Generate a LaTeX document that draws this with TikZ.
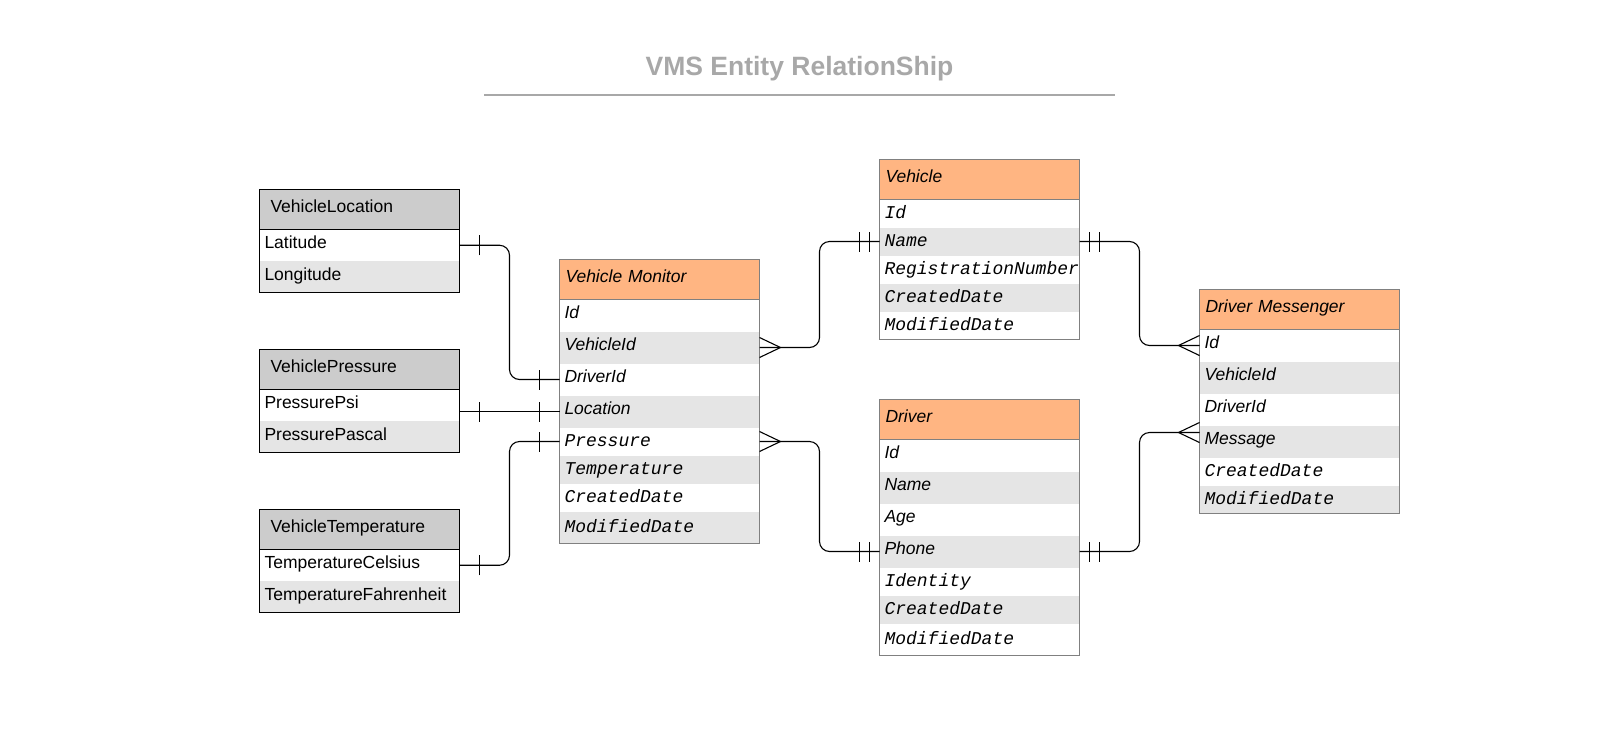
\documentclass[tikz,border=0pt]{standalone}
\usepackage{fontspec}
\setmainfont{Liberation Sans}
\setmonofont{Liberation Mono}
\usepackage{tikz}
\usetikzlibrary{positioning, calc, decorations.markings}
\definecolor{headorange}{HTML}{FFB582}
\definecolor{headgray}{HTML}{CCCCCC}
\definecolor{stripe}{HTML}{E5E5E5}
\definecolor{edgegray}{HTML}{808080}
\definecolor{titlegray}{HTML}{A8A8A8}
\tikzstyle{cell} = [rectangle, outer sep=0pt, inner ysep=0pt, text height=11.5pt, text depth=5pt, align=left, minimum width=200pt]
\tikzstyle{tablehead} = [cell, minimum height=40pt, text width=188pt, inner xsep=6pt, fill=headorange, font=\fontsize{17.5}{20}\selectfont\itshape]
\tikzstyle{lefthead} = [tablehead, fill=headgray, text width=178pt, inner xsep=11pt, font=\fontsize{17.5}{20}\selectfont]
\tikzstyle{field} = [cell, minimum height=32pt, text width=190pt, inner xsep=5pt, font=\fontsize{17.5}{20}\selectfont\itshape]
\tikzstyle{monofield} = [field, minimum height=28pt, text height=12.5pt, text depth=3.5pt, font=\fontsize{18}{20}\selectfont\ttfamily\itshape]
\tikzstyle{leftfield} = [field, minimum height=31.5pt, font=\fontsize{17.5}{20}\selectfont]
\tikzstyle{striped} = [fill=stripe]
\tikzstyle{entityframe} = [draw=edgegray, line width=1pt]
\tikzstyle{leftframe} = [draw=black, line width=1pt]
\tikzstyle{relation} = [draw=black, line width=1.1pt, rounded corners=10pt]
\tikzstyle{tick} = [line width=1.1pt, sharp corners]
\tikzstyle{onestart} = [postaction={decorate, decoration={markings, mark=at position 20pt with {\draw[tick] (0pt,-10pt) -- (0pt,10pt);}}}]
\tikzstyle{oneend} = [postaction={decorate, decoration={markings, mark=at position -20pt with {\draw[tick] (0pt,-10pt) -- (0pt,10pt);}}}]
\tikzstyle{twostart} = [postaction={decorate, decoration={markings,
	mark=at position 10pt with {\draw[tick] (0pt,-10pt) -- (0pt,10pt);},
	mark=at position 20pt with {\draw[tick] (0pt,-10pt) -- (0pt,10pt);}}}]
\tikzstyle{twoend} = [postaction={decorate, decoration={markings,
	mark=at position -20pt with {\draw[tick] (0pt,-10pt) -- (0pt,10pt);},
	mark=at position -10pt with {\draw[tick] (0pt,-10pt) -- (0pt,10pt);}}}]
\tikzstyle{manystart} = [postaction={decorate, decoration={markings, mark=at position 21pt with {\draw[tick] (-21pt,10pt) -- (0pt,0pt) -- (-21pt,-10pt);}}}]
\tikzstyle{manyend} = [postaction={decorate, decoration={markings, mark=at position -21pt with {\draw[tick] (21pt,10pt) -- (0pt,0pt) -- (21pt,-10pt);}}}]

\begin{document}
\begin{tikzpicture}[x=1pt, y=-1pt]
		\useasboundingbox (0,0) rectangle (1621,729);
		% title
		\node (title) [anchor=base, text=titlegray, font=\fontsize{26.5}{30}\selectfont\bfseries] at (799.5,75.5) {VMS Entity RelationShip};
		\coordinate (RuleLeft) at (484,94.5);
		\coordinate (RuleRight) at (1115,94.5);
		\draw [titlegray, line width=2pt] (RuleLeft) -- (RuleRight);
		% left tables
		\node (vl) [lefthead, anchor=north west] at (259.5,189.5) {VehicleLocation};
		\node (vl-lat) [leftfield, below = 0pt of vl] {Latitude};
		\node (vl-long) [leftfield, striped, below = 0pt of vl-lat] {Longitude};
		\draw [leftframe] (vl.north west) rectangle (vl-long.south east) (vl.south west) -- (vl.south east);
		\node (vp) [lefthead, anchor=north west] at (259.5,349.5) {VehiclePressure};
		\node (vp-psi) [leftfield, below = 0pt of vp] {PressurePsi};
		\node (vp-pascal) [leftfield, striped, below = 0pt of vp-psi] {PressurePascal};
		\draw [leftframe] (vp.north west) rectangle (vp-pascal.south east) (vp.south west) -- (vp.south east);
		\node (vt) [lefthead, anchor=north west] at (259.5,509.5) {VehicleTemperature};
		\node (vt-celsius) [leftfield, below = 0pt of vt] {TemperatureCelsius};
		\node (vt-fahrenheit) [leftfield, striped, below = 0pt of vt-celsius] {TemperatureFahrenheit};
		\draw [leftframe] (vt.north west) rectangle (vt-fahrenheit.south east) (vt.south west) -- (vt.south east);
		% vehicle monitor
		\node (vm) [tablehead, anchor=north west] at (559.5,259.5) {Vehicle Monitor};
		\node (vm-id) [field, below = 0pt of vm] {Id};
		\node (vm-vehid) [field, striped, below = 0pt of vm-id] {VehicleId};
		\node (vm-driver) [field, below = 0pt of vm-vehid] {DriverId};
		\node (vm-location) [field, striped, below = 0pt of vm-driver] {Location};
		\node (vm-pressure) [monofield, below = 0pt of vm-location] {Pressure};
		\node (vm-temp) [monofield, striped, below = 0pt of vm-pressure] {Temperature};
		\node (vm-created) [monofield, below = 0pt of vm-temp] {CreatedDate};
		\node (vm-modified) [monofield, striped, minimum height=32pt, below = 0pt of vm-created] {ModifiedDate};
		\draw [entityframe] (vm.north west) rectangle (vm-modified.south east) (vm.south west) -- (vm.south east);
		% vehicle
		\node (veh) [tablehead, anchor=north west] at (879.5,159.5) {Vehicle};
		\node (veh-id) [monofield, below = 0pt of veh] {Id};
		\node (veh-name) [monofield, striped, below = 0pt of veh-id] {Name};
		\node (veh-reg) [monofield, below = 0pt of veh-name] {RegistrationNumber};
		\node (veh-created) [monofield, striped, below = 0pt of veh-reg] {CreatedDate};
		\node (veh-modified) [monofield, below = 0pt of veh-created] {ModifiedDate};
		\draw [entityframe] (veh.north west) rectangle (veh-modified.south east) (veh.south west) -- (veh.south east);
		% driver
		\node (drv) [tablehead, anchor=north west] at (879.5,399.5) {Driver};
		\node (drv-id) [field, below = 0pt of drv] {Id};
		\node (drv-name) [field, striped, below = 0pt of drv-id] {Name};
		\node (drv-age) [field, below = 0pt of drv-name] {Age};
		\node (drv-phone) [field, striped, below = 0pt of drv-age] {Phone};
		\node (drv-identity) [monofield, below = 0pt of drv-phone] {Identity};
		\node (drv-created) [monofield, striped, below = 0pt of drv-identity] {CreatedDate};
		\node (drv-modified) [monofield, minimum height=32pt, below = 0pt of drv-created] {ModifiedDate};
		\draw [entityframe] (drv.north west) rectangle (drv-modified.south east) (drv.south west) -- (drv.south east);
		% driver messenger
		\node (dm) [tablehead, anchor=north west] at (1199.5,289.5) {Driver Messenger};
		\node (dm-id) [field, below = 0pt of dm] {Id};
		\node (dm-vehid) [field, striped, below = 0pt of dm-id] {VehicleId};
		\node (dm-driver) [field, below = 0pt of dm-vehid] {DriverId};
		\node (dm-msg) [field, striped, below = 0pt of dm-driver] {Message};
		\node (dm-created) [monofield, below = 0pt of dm-msg] {CreatedDate};
		\node (dm-modified) [monofield, striped, below = 0pt of dm-created] {ModifiedDate};
		\draw [entityframe] (dm.north west) rectangle (dm-modified.south east) (dm.south west) -- (dm.south east);
		% relations
		\draw [relation, onestart, oneend] (vl-lat.east) -- ++(50,0) |- (vm-driver.west);
		\draw [relation, onestart, oneend] (vm-location.west -| vp-psi.east) -- (vm-location.west);
		\draw [relation, onestart, oneend] (vt-celsius.east) -- ++(50,0) |- (vm-pressure.west);
		\draw [relation, manystart, twoend] (vm-vehid.east) -- ++(60,0) |- (veh-name.west);
		\draw [relation, manystart, twoend] (vm-pressure.east) -- ++(60,0) |- (drv-phone.west);
		\draw [relation, twostart, manyend] (veh-name.east) -- ++(60,0) |- (dm-id.west);
		\draw [relation, twostart, manyend] (drv-phone.east) -- ++(60,0) |- ([yshift=9pt]dm-msg.west);
\end{tikzpicture}
\end{document}
